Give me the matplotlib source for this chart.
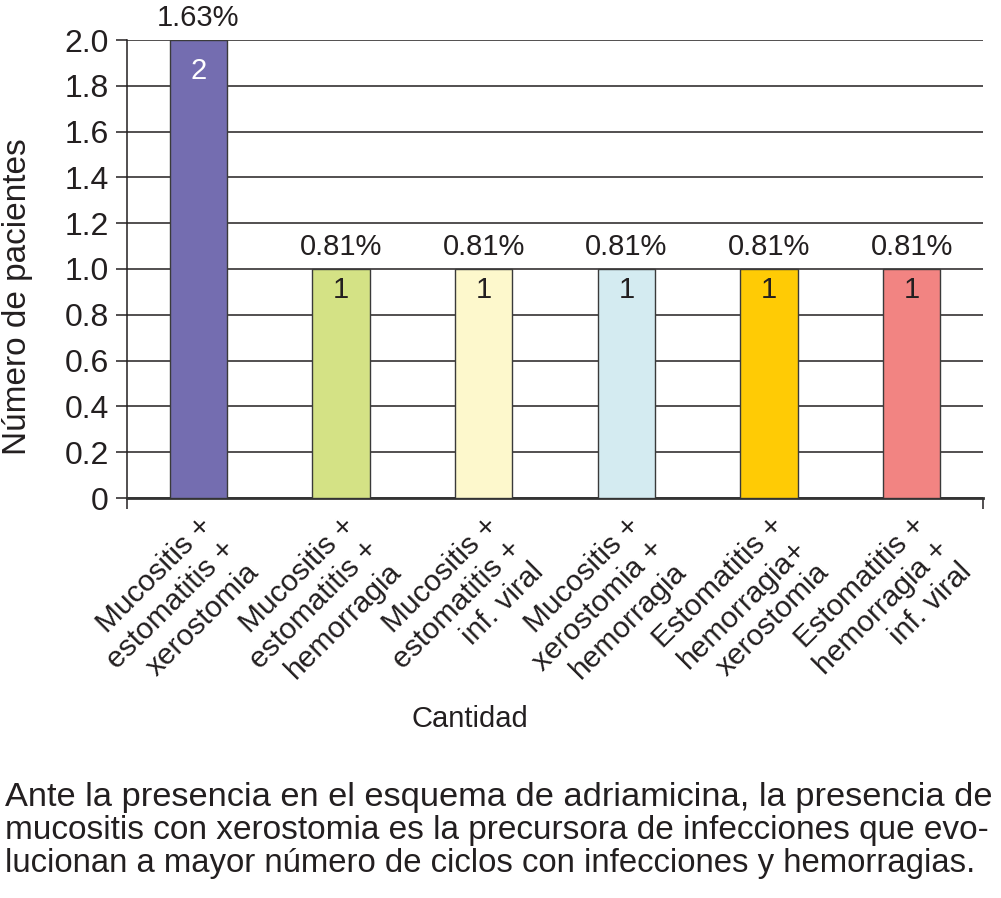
import matplotlib
matplotlib.use("Agg")
import matplotlib.pyplot as plt

plt.rcParams['font.family'] = ['Liberation Sans', 'DejaVu Sans']

# data
categories = [
    "Mucositis +\nestomatitis +\nxerostomia",
    "Mucositis +\nestomatitis +\nhemorragia",
    "Mucositis +\nestomatitis +\ninf. viral",
    "Mucositis +\nxerostomia +\nhemorragia",
    "Estomatitis +\nhemorragia+\nxerostomia",
    "Estomatitis +\nhemorragia +\ninf. viral",
]
patients = [2, 1, 1, 1, 1, 1]
percent = [1.63, 0.81, 0.81, 0.81, 0.81, 0.81]
bar_colors = ["#746db0", "#d4e285", "#fdf8cc", "#d4ebf1", "#ffcb05", "#f28482"]
count_colors = ["white", "#231f20", "#231f20", "#231f20", "#231f20", "#231f20"]
yticks = [0, 0.2, 0.4, 0.6, 0.8, 1.0, 1.2, 1.4, 1.6, 1.8, 2.0]
ytick_labels = ["0", "0.2", "0.4", "0.6", "0.8", "1.0", "1.2", "1.4", "1.6", "1.8", "2.0"]
caption_lines = [
    "Ante la presencia en el esquema de adriamicina, la presencia de",
    "mucositis con xerostomia es la precursora de infecciones que evo-",
    "lucionan a mayor número de ciclos con infecciones y hemorragias.",
]
caption_widths = [983, 985, 970]  # pixel widths of the justified lines

W, H = 1001, 898
ink = "#231f20"
fig = plt.figure(figsize=(W / 100, H / 100), dpi=100)
ax = fig.add_axes([127 / W, 1 - 498 / H, (983 - 127) / W, (498 - 40) / H])

x = list(range(len(categories)))
ax.bar(x, patients, width=0.4, color=bar_colors, edgecolor="#3a3a3a",
       linewidth=1.0, zorder=3)

ax.set_xlim(-0.5, len(categories) - 0.5)
ax.set_ylim(0, 2.0)
ax.set_yticks(yticks)
ax.set_yticklabels(ytick_labels)
ax.yaxis.grid(True, color=ink, linewidth=1.1, zorder=0)
ax.set_axisbelow(True)

for s in ["top", "right"]:
    ax.spines[s].set_visible(False)
ax.spines["left"].set_color(ink)
ax.spines["left"].set_linewidth(1.1)
ax.spines["bottom"].set_color("#333333")
ax.spines["bottom"].set_linewidth(2.0)

ax.set_xticks(x)
ax.set_xticklabels(categories, rotation=45, ha="right", va="top",
                   rotation_mode="anchor", fontsize=21.5, color=ink,
                   linespacing=1.2)
ax.tick_params(axis="x", which="major", length=0, pad=10)
ax.set_xticks([-0.5, len(categories) - 0.5], minor=True)
ax.tick_params(axis="x", which="minor", length=8, width=1.1, color=ink)
ax.tick_params(axis="y", length=8, width=1.1, color=ink, labelsize=23,
               labelcolor=ink, pad=5)

top = max(patients)
for xi, n, p, c in zip(x, patients, percent, count_colors):
    ax.annotate(f"{p:.2f}%", (xi, n), xytext=(0, 16), textcoords="offset points",
                ha="center", va="center", fontsize=21, color=ink,
                annotation_clip=False)
    depth = -22 if n == top else -15
    ax.annotate(f"{n}", (xi, n), xytext=(0, depth), textcoords="offset points",
                ha="center", va="center", fontsize=21, color=c)

fig.text(18 / W, 1 - 297 / H, "Número de pacientes", rotation=90,
         ha="center", va="center", fontsize=24, color=ink)
fig.text(470 / W, 1 - 719 / H, "Cantidad", ha="center", va="center",
         fontsize=21, color=ink)

# caption, each line sized to its justified width
fig.canvas.draw()
renderer = fig.canvas.get_renderer()
for i, (line, target) in enumerate(zip(caption_lines, caption_widths)):
    t = fig.text(5 / W, 1 - (806 + 33 * i) / H, line, ha="left", va="baseline",
                 fontsize=20, color=ink)
    w = t.get_window_extent(renderer=renderer).width
    t.set_fontsize(20 * target / w)

fig.savefig("out.png", dpi=100)
